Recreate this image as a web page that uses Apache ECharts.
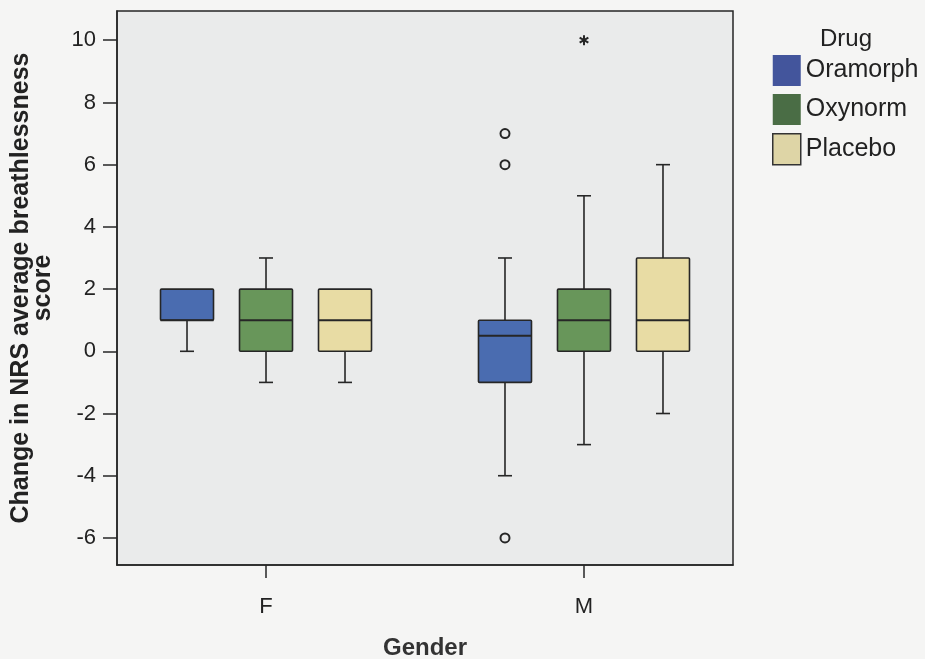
<!DOCTYPE html>
<html>
<head>
<meta charset="utf-8">
<script src="https://cdn.jsdelivr.net/npm/echarts@6/dist/echarts.min.js"></script>
<style>
html,body{margin:0;padding:0;background:#f5f5f4;}
#chart{width:925px;height:659px;}
</style>
</head>
<body>
<div id="chart"></div>
<script>
// ---- data ----
const genders = ['F', 'M'];
const drugs = ['Oramorph', 'Oxynorm', 'Placebo'];
// [genderIndex, min, Q1, median, Q3, max]
const oramorph = [[0, 0, 1, 1, 2, 2], [1, -4, -1, 0.5, 1, 3]];
const oxynorm  = [[0, -1, 0, 1, 2, 3], [1, -3, 0, 1, 2, 5]];
const placebo  = [[0, -1, 0, 1, 2, 2], [1, -2, 0, 1, 3, 6]];
// outliers (circles) and extremes (asterisks): [genderIndex, value]
const oramorphOutliers = [[1, 7], [1, 6], [1, -6]];
const oxynormExtremes = [[1, 10]];
const yTicks = [-6, -4, -2, 0, 2, 4, 6, 8, 10];
const xTicks = [0, 1];

// ---- style ----
const fills = ['#4a6cb0', '#68965a', '#e8dca4'];
const legendFills = ['#43559c', '#4a6d45', '#ded5a6'];
const ink = '#262626';
const groupStep = 79;   // px between boxes within a gender
const boxW = 53;        // px
const capW = 14;        // px

function boxRender(k) {
  return function (params, api) {
    const x = api.value(0);
    const vMin = api.value(1), q1 = api.value(2), med = api.value(3), q3 = api.value(4), vMax = api.value(5);
    const c = api.coord([x, 0])[0] + (k - 1) * groupStep;
    const y = v => api.coord([x, v])[1];
    const lw = 1.6;
    const ls = {stroke: ink, lineWidth: lw};
    const ch = [];
    if (vMax > q3) {
      ch.push({type: 'line', shape: {x1: c, y1: y(q3), x2: c, y2: y(vMax)}, style: ls});
      ch.push({type: 'line', shape: {x1: c - capW / 2, y1: y(vMax), x2: c + capW / 2, y2: y(vMax)}, style: ls});
    }
    if (vMin < q1) {
      ch.push({type: 'line', shape: {x1: c, y1: y(q1), x2: c, y2: y(vMin)}, style: ls});
      ch.push({type: 'line', shape: {x1: c - capW / 2, y1: y(vMin), x2: c + capW / 2, y2: y(vMin)}, style: ls});
    }
    ch.push({type: 'rect', shape: {x: c - boxW / 2, y: y(q3), width: boxW, height: y(q1) - y(q3), r: 1},
      style: {fill: fills[k], stroke: ink, lineWidth: lw}});
    ch.push({type: 'line', shape: {x1: c - boxW / 2, y1: y(med), x2: c + boxW / 2, y2: y(med)}, style: {stroke: ink, lineWidth: 2}});
    return {type: 'group', children: ch};
  };
}

function outlierRender(k) {
  return function (params, api) {
    const x = api.value(0);
    const p = api.coord([x, api.value(1)]);
    return {type: 'circle', shape: {cx: p[0] + (k - 1) * groupStep, cy: p[1], r: 4.5},
      style: {fill: 'rgba(0,0,0,0)', stroke: ink, lineWidth: 2}};
  };
}

function extremeRender(k) {
  return function (params, api) {
    const x = api.value(0);
    const p = api.coord([x, api.value(1)]);
    const cx = p[0] + (k - 1) * groupStep, cy = p[1], r = 5;
    const ch = [];
    [90, 30, 150].forEach(a => {
      const t = a * Math.PI / 180;
      ch.push({type: 'line', shape: {x1: cx - r * Math.cos(t), y1: cy - r * Math.sin(t), x2: cx + r * Math.cos(t), y2: cy + r * Math.sin(t)},
        style: {stroke: ink, lineWidth: 2}});
    });
    return {type: 'group', children: ch};
  };
}

const boxData = [oramorph, oxynorm, placebo];
const series = drugs.map((d, k) => ({
  name: d,
  type: 'custom',
  renderItem: boxRender(k),
  itemStyle: {color: fills[k]},
  encode: {x: 0, y: [1, 2, 3, 4, 5]},
  data: boxData[k],
  z: 2
}));
series.push({
  name: 'Oramorph outliers', type: 'custom', renderItem: outlierRender(0),
  encode: {x: 0, y: 1}, data: oramorphOutliers, z: 3
});
series.push({
  name: 'Oxynorm extremes', type: 'custom', renderItem: extremeRender(1),
  encode: {x: 0, y: 1}, data: oxynormExtremes, z: 3
});

const chart = echarts.init(document.getElementById('chart'), null, {renderer: 'canvas'});
chart.setOption({
  backgroundColor: '#f5f5f4',
  animation: false,
  textStyle: {fontFamily: 'Liberation Sans, Arial, sans-serif'},
  title: {
    text: 'Drug', left: 815, top: 22,
    textStyle: {fontSize: 24, fontWeight: 'normal', color: '#222', fontFamily: 'Liberation Sans'}
  },
  legend: {
    orient: 'vertical', left: 767, top: 50,
    itemWidth: 28, itemHeight: 31, itemGap: 8,
    icon: 'rect',
    textStyle: {fontSize: 25, color: '#222', fontFamily: 'Liberation Sans'},
    data: drugs.map((d, k) => ({name: d, itemStyle: {color: legendFills[k], borderColor: '#333', borderWidth: k === 2 ? 1.5 : 0}}))
  },
  grid: {
    left: 117, top: 11, right: 192, bottom: 94,
    outerBoundsMode: 'none', containLabel: false,
    show: true, backgroundColor: '#eaebeb', borderColor: ink, borderWidth: 1.5
  },
  xAxis: {
    type: 'value', min: -0.4686, max: 1.4686,
    name: 'Gender', nameLocation: 'middle', nameGap: 71,
    nameTextStyle: {fontSize: 24, fontWeight: 'bold', color: '#333', fontFamily: 'Liberation Sans'},
    axisLine: {show: true, onZero: false, lineStyle: {color: ink, width: 1.5}},
    axisTick: {show: true, customValues: xTicks, length: 13, lineStyle: {color: ink, width: 1.5}},
    axisLabel: {customValues: xTicks, formatter: v => genders[v], fontSize: 22, color: '#222', margin: 31, fontFamily: 'Liberation Sans'},
    splitLine: {show: false}
  },
  yAxis: {
    type: 'value', min: -6.87, max: 10.94,
    name: 'Change in NRS average breathlessness\nscore', nameLocation: 'middle', nameGap: 63, nameRotate: 90,
    nameTextStyle: {fontSize: 25, fontWeight: 'bold', color: '#222', lineHeight: 22, align: 'center', fontFamily: 'Liberation Sans'},
    axisLine: {show: true, onZero: false, lineStyle: {color: ink, width: 1.5}},
    axisTick: {show: true, customValues: yTicks, length: 14, lineStyle: {color: ink, width: 1.5}},
    axisLabel: {customValues: yTicks, fontSize: 22, color: '#222', margin: 21, fontFamily: 'Liberation Sans'},
    splitLine: {show: false}
  },
  series: series
});
</script>
</body>
</html>
